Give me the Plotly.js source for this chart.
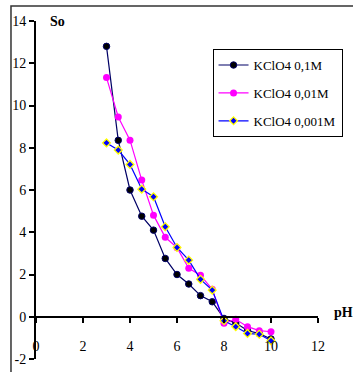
<!DOCTYPE html>
<html>
<head>
<meta charset="utf-8">
<script src="https://cdn.plot.ly/plotly-3.0.1.min.js"></script>
<style>html,body{margin:0;padding:0;background:#fff;}#chart{width:353px;height:372px;}</style>
</head>
<body>
<div id="chart"></div>
<script>
var pH = [3, 3.5, 4, 4.5, 5, 5.5, 6, 6.5, 7, 7.5, 8, 8.5, 9, 9.5, 10];
var so_01M = [12.8, 8.35, 6.0, 4.76, 4.1, 2.76, 2.0, 1.55, 1.0, 0.71, -0.08, -0.3, -0.65, -0.8, -1.05];
var so_001M = [11.32, 9.46, 8.36, 6.47, 4.81, 3.76, 3.27, 2.29, 1.97, 1.3, -0.31, -0.12, -0.47, -0.66, -0.71];
var so_0001M = [8.23, 7.89, 7.21, 6.04, 5.68, 4.26, 3.28, 2.68, 1.77, 1.26, -0.19, -0.47, -0.79, -0.83, -1.14];
var names = ["KClO4 0,1M", "KClO4 0,01M", "KClO4 0,001M"];
var xTicks = [0, 2, 4, 6, 8, 10, 12];
var yTicks = [-2, 0, 2, 4, 6, 8, 10, 12, 14];

var serif = "Liberation Serif";

var traces = [
  {x: pH, y: so_01M, name: names[0], mode: "lines+markers", legendgroup: "a",
   line: {color: "#000066", width: 1.2},
   marker: {symbol: "circle", size: 6.5, color: "#000000", line: {color: "#000066", width: 1}}},
  {x: pH, y: so_001M, name: names[1], mode: "lines+markers", legendgroup: "b",
   line: {color: "#ff00ff", width: 1.2},
   marker: {symbol: "circle", size: 7, color: "#ff00ff"}},
  {x: pH, y: so_0001M, name: names[2], mode: "lines+markers", legendgroup: "c",
   line: {color: "#0000ff", width: 1.2},
   marker: {symbol: "diamond", size: 6, color: "#0000ff", line: {color: "#ffff00", width: 1.3}}}
];

var layout = {
  width: 353, height: 372,
  margin: {l: 36, r: 35, t: 21, b: 13, autoexpand: false},
  paper_bgcolor: "#fff", plot_bgcolor: "#fff",
  font: {family: serif, size: 13, color: "#000"},
  showlegend: true,
  legend: {
    x: 0.626, y: 0.917, xanchor: "left", yanchor: "top",
    bordercolor: "#000", borderwidth: 1, bgcolor: "#fff",
    font: {family: serif, size: 13, color: "#000"},
    traceorder: "grouped", tracegroupgap: 8, itemwidth: 30
  },
  xaxis: {
    range: [0, 12], tickvals: xTicks, ticktext: xTicks.map(String),
    anchor: "free", position: 0.125,
    showline: true, linecolor: "#000", linewidth: 2,
    ticks: "outside", ticklen: 5, tickwidth: 2, tickcolor: "#000",
    showgrid: false, zeroline: false, ticklabelstandoff: 11,
    tickfont: {family: serif, size: 14, color: "#000"}
  },
  yaxis: {
    range: [-2, 14], tickvals: yTicks, ticktext: yTicks.map(String),
    showline: true, linecolor: "#000", linewidth: 2,
    ticks: "outside", ticklen: 5, tickwidth: 2, tickcolor: "#000",
    showgrid: false, zeroline: false,
    tickfont: {family: serif, size: 14, color: "#000"}
  },
  shapes: [
    {type: "rect", xref: "paper", yref: "paper", x0: -0.0887, x1: 1.2, y0: -0.2, y1: 1.0444,
     line: {color: "#333", width: 1.5}, fillcolor: "rgba(0,0,0,0)", layer: "below"}
  ],
  annotations: [
    {text: "<b>So</b>", xref: "paper", yref: "paper", x: 0.0426, y: 1.0, xanchor: "left", yanchor: "middle",
     showarrow: false, font: {family: serif, size: 14, color: "#000"}},
    {text: "<b>pH</b>", xref: "paper", yref: "paper", x: 1.09, y: 0.139, xanchor: "center", yanchor: "middle",
     showarrow: false, font: {family: serif, size: 14, color: "#000"}}
  ]
};

Plotly.newPlot("chart", traces, layout, {displayModeBar: false, staticPlot: true});
</script>
</body>
</html>
